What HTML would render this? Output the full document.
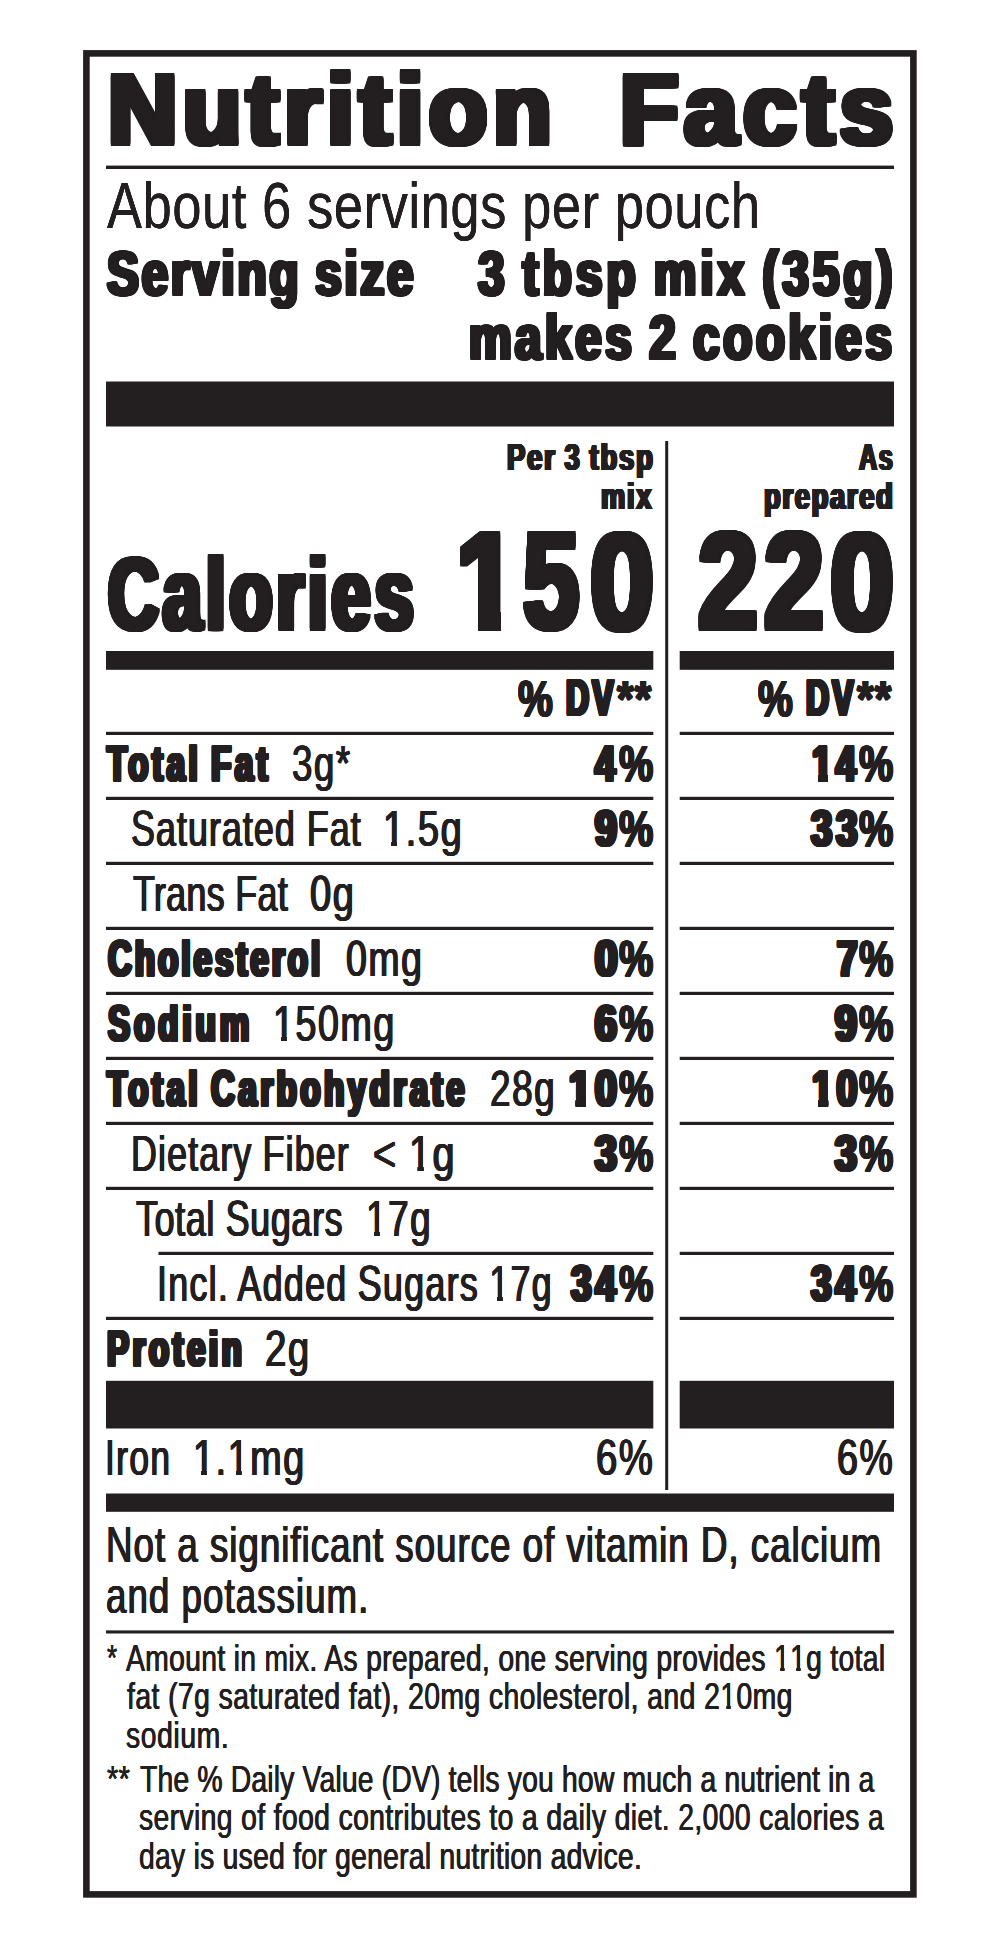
<!DOCTYPE html>
<html lang="en"><head><meta charset="utf-8"><title>Nutrition Facts</title>
<style>
html,body{margin:0;padding:0;background:#fff;}
body{width:1000px;height:1942px;position:relative;overflow:hidden;font-family:"Liberation Sans",sans-serif;color:#231f20;}
.rules{position:absolute;left:0;top:0;}
.g{position:absolute;left:0;top:0;}
.t{position:absolute;white-space:nowrap;line-height:1;transform-origin:0 0;}
.t i{font-style:normal;display:inline-block;}
.title{font-size:100.9px;font-weight:700;text-shadow:-3.7px -2px 0 #231f20,-3.03px -2px 0 #231f20,-2.35px -2px 0 #231f20,-1.68px -2px 0 #231f20,-1.01px -2px 0 #231f20,-0.34px -2px 0 #231f20,0.34px -2px 0 #231f20,1.01px -2px 0 #231f20,1.68px -2px 0 #231f20,2.35px -2px 0 #231f20,3.03px -2px 0 #231f20,3.7px -2px 0 #231f20,-3.7px 2px 0 #231f20,-3.03px 2px 0 #231f20,-2.35px 2px 0 #231f20,-1.68px 2px 0 #231f20,-1.01px 2px 0 #231f20,-0.34px 2px 0 #231f20,0.34px 2px 0 #231f20,1.01px 2px 0 #231f20,1.68px 2px 0 #231f20,2.35px 2px 0 #231f20,3.03px 2px 0 #231f20,3.7px 2px 0 #231f20,-3.7px -1.2px 0 #231f20,3.7px -1.2px 0 #231f20,-3.7px -0.4px 0 #231f20,3.7px -0.4px 0 #231f20,-3.7px 0.4px 0 #231f20,3.7px 0.4px 0 #231f20,-3.7px 1.2px 0 #231f20,3.7px 1.2px 0 #231f20}
.about{font-size:65.5px;font-weight:400;text-shadow:-0.15px 0px 0 #231f20,0.15px 0px 0 #231f20}
.serv{font-size:63.8px;font-weight:700;text-shadow:-2.5px -0.55px 0 #231f20,-1.88px -0.55px 0 #231f20,-1.25px -0.55px 0 #231f20,-0.62px -0.55px 0 #231f20,0px -0.55px 0 #231f20,0.62px -0.55px 0 #231f20,1.25px -0.55px 0 #231f20,1.88px -0.55px 0 #231f20,2.5px -0.55px 0 #231f20,-2.5px 0.55px 0 #231f20,-1.88px 0.55px 0 #231f20,-1.25px 0.55px 0 #231f20,-0.62px 0.55px 0 #231f20,0px 0.55px 0 #231f20,0.62px 0.55px 0 #231f20,1.25px 0.55px 0 #231f20,1.88px 0.55px 0 #231f20,2.5px 0.55px 0 #231f20,-2.5px 0px 0 #231f20,2.5px 0px 0 #231f20}
.per{font-size:36.4px;font-weight:700;text-shadow:-1.45px -0.45px 0 #231f20,-0.87px -0.45px 0 #231f20,-0.29px -0.45px 0 #231f20,0.29px -0.45px 0 #231f20,0.87px -0.45px 0 #231f20,1.45px -0.45px 0 #231f20,-1.45px 0.45px 0 #231f20,-0.87px 0.45px 0 #231f20,-0.29px 0.45px 0 #231f20,0.29px 0.45px 0 #231f20,0.87px 0.45px 0 #231f20,1.45px 0.45px 0 #231f20,-1.45px 0px 0 #231f20,1.45px 0px 0 #231f20}
.cal{font-size:101.7px;font-weight:700;text-shadow:-4.26px -1.5px 0 #231f20,-3.6px -1.5px 0 #231f20,-2.95px -1.5px 0 #231f20,-2.29px -1.5px 0 #231f20,-1.64px -1.5px 0 #231f20,-0.98px -1.5px 0 #231f20,-0.33px -1.5px 0 #231f20,0.33px -1.5px 0 #231f20,0.98px -1.5px 0 #231f20,1.64px -1.5px 0 #231f20,2.29px -1.5px 0 #231f20,2.95px -1.5px 0 #231f20,3.6px -1.5px 0 #231f20,4.26px -1.5px 0 #231f20,-4.26px 1.5px 0 #231f20,-3.6px 1.5px 0 #231f20,-2.95px 1.5px 0 #231f20,-2.29px 1.5px 0 #231f20,-1.64px 1.5px 0 #231f20,-0.98px 1.5px 0 #231f20,-0.33px 1.5px 0 #231f20,0.33px 1.5px 0 #231f20,0.98px 1.5px 0 #231f20,1.64px 1.5px 0 #231f20,2.29px 1.5px 0 #231f20,2.95px 1.5px 0 #231f20,3.6px 1.5px 0 #231f20,4.26px 1.5px 0 #231f20,-4.26px -0.75px 0 #231f20,4.26px -0.75px 0 #231f20,-4.26px 0px 0 #231f20,4.26px 0px 0 #231f20,-4.26px 0.75px 0 #231f20,4.26px 0.75px 0 #231f20}
.dig{font-size:138px;font-weight:700;text-shadow:-4px -2.5px 0 #231f20,-3.33px -2.5px 0 #231f20,-2.67px -2.5px 0 #231f20,-2px -2.5px 0 #231f20,-1.33px -2.5px 0 #231f20,-0.67px -2.5px 0 #231f20,0px -2.5px 0 #231f20,0.67px -2.5px 0 #231f20,1.33px -2.5px 0 #231f20,2px -2.5px 0 #231f20,2.67px -2.5px 0 #231f20,3.33px -2.5px 0 #231f20,4px -2.5px 0 #231f20,-4px 2.5px 0 #231f20,-3.33px 2.5px 0 #231f20,-2.67px 2.5px 0 #231f20,-2px 2.5px 0 #231f20,-1.33px 2.5px 0 #231f20,-0.67px 2.5px 0 #231f20,0px 2.5px 0 #231f20,0.67px 2.5px 0 #231f20,1.33px 2.5px 0 #231f20,2px 2.5px 0 #231f20,2.67px 2.5px 0 #231f20,3.33px 2.5px 0 #231f20,4px 2.5px 0 #231f20,-4px -1.79px 0 #231f20,4px -1.79px 0 #231f20,-4px -1.07px 0 #231f20,4px -1.07px 0 #231f20,-4px -0.36px 0 #231f20,4px -0.36px 0 #231f20,-4px 0.36px 0 #231f20,4px 0.36px 0 #231f20,-4px 1.07px 0 #231f20,4px 1.07px 0 #231f20,-4px 1.79px 0 #231f20,4px 1.79px 0 #231f20}
.blk{font-size:49.9px;font-weight:700;text-shadow:-2.4px -0.85px 0 #231f20,-1.71px -0.85px 0 #231f20,-1.03px -0.85px 0 #231f20,-0.34px -0.85px 0 #231f20,0.34px -0.85px 0 #231f20,1.03px -0.85px 0 #231f20,1.71px -0.85px 0 #231f20,2.4px -0.85px 0 #231f20,-2.4px 0.85px 0 #231f20,-1.71px 0.85px 0 #231f20,-1.03px 0.85px 0 #231f20,-0.34px 0.85px 0 #231f20,0.34px 0.85px 0 #231f20,1.03px 0.85px 0 #231f20,1.71px 0.85px 0 #231f20,2.4px 0.85px 0 #231f20,-2.4px -0.28px 0 #231f20,2.4px -0.28px 0 #231f20,-2.4px 0.28px 0 #231f20,2.4px 0.28px 0 #231f20}
.pct{font-size:49.9px;font-weight:700;text-shadow:-0.9px -0.5px 0 #231f20,-0.3px -0.5px 0 #231f20,0.3px -0.5px 0 #231f20,0.9px -0.5px 0 #231f20,-0.9px 0.5px 0 #231f20,-0.3px 0.5px 0 #231f20,0.3px 0.5px 0 #231f20,0.9px 0.5px 0 #231f20,-0.9px 0px 0 #231f20,0.9px 0px 0 #231f20}
.reg{font-size:50.5px;font-weight:400;text-shadow:-0.85px 0px 0 #231f20,-0.28px 0px 0 #231f20,0.28px 0px 0 #231f20,0.85px 0px 0 #231f20}
.note{font-size:50.0px;font-weight:400;text-shadow:-0.75px 0px 0 #231f20,-0.25px 0px 0 #231f20,0.25px 0px 0 #231f20,0.75px 0px 0 #231f20}
.foot{font-size:37.3px;font-weight:400;text-shadow:-0.45px 0px 0 #231f20,0.45px 0px 0 #231f20}
</style></head>
<body>
<svg class="rules" width="1000" height="1942" viewBox="0 0 1000 1942">
<rect x="86.4" y="53.4" width="827" height="1841" fill="none" stroke="#231f20" stroke-width="6.6"/>
<rect x="106" y="165.6" width="788" height="3.4" fill="#231f20"/>
<rect x="106" y="381.5" width="788" height="45" fill="#231f20"/>
<rect x="665.2" y="441" width="3" height="1049" fill="#231f20"/>
<rect x="106" y="651" width="547.3" height="18.8" fill="#231f20"/>
<rect x="679.7" y="651" width="214.3" height="18.8" fill="#231f20"/>
<rect x="106" y="1380.8" width="547.3" height="47.7" fill="#231f20"/>
<rect x="679.7" y="1380.8" width="214.3" height="47.7" fill="#231f20"/>
<rect x="106" y="1493.5" width="788" height="18.3" fill="#231f20"/>
<rect x="106" y="1630.4" width="788" height="3.1" fill="#231f20"/>
<rect x="106" y="731.8" width="547.3" height="3.2" fill="#231f20"/>
<rect x="679.7" y="731.8" width="214.3" height="3.2" fill="#231f20"/>
<rect x="106" y="796.8" width="547.3" height="3.2" fill="#231f20"/>
<rect x="679.7" y="796.8" width="214.3" height="3.2" fill="#231f20"/>
<rect x="106" y="861.8" width="547.3" height="3.2" fill="#231f20"/>
<rect x="679.7" y="861.8" width="214.3" height="3.2" fill="#231f20"/>
<rect x="106" y="926.8" width="547.3" height="3.2" fill="#231f20"/>
<rect x="679.7" y="926.8" width="214.3" height="3.2" fill="#231f20"/>
<rect x="106" y="991.8" width="547.3" height="3.2" fill="#231f20"/>
<rect x="679.7" y="991.8" width="214.3" height="3.2" fill="#231f20"/>
<rect x="106" y="1056.8" width="547.3" height="3.2" fill="#231f20"/>
<rect x="679.7" y="1056.8" width="214.3" height="3.2" fill="#231f20"/>
<rect x="106" y="1121.8" width="547.3" height="3.2" fill="#231f20"/>
<rect x="679.7" y="1121.8" width="214.3" height="3.2" fill="#231f20"/>
<rect x="106" y="1186.8" width="547.3" height="3.2" fill="#231f20"/>
<rect x="679.7" y="1186.8" width="214.3" height="3.2" fill="#231f20"/>
<rect x="158.5" y="1251.8" width="494.8" height="3.2" fill="#231f20"/>
<rect x="679.7" y="1251.8" width="214.3" height="3.2" fill="#231f20"/>
<rect x="106" y="1316.8" width="547.3" height="3.2" fill="#231f20"/>
<rect x="679.7" y="1316.8" width="214.3" height="3.2" fill="#231f20"/>
</svg>
<div class="header">
<span class="t title" style="left:108.35px;top:58.80px;letter-spacing:5.83px;transform:scaleX(0.9498)">Nutrition</span>
<span class="t title" style="left:619.95px;top:58.80px;letter-spacing:6px;transform:scaleX(0.9496)">Facts</span>
</div>
<div class="servings">
<span class="t about" style="left:106.50px;top:173.45px;letter-spacing:0.76px;transform:scaleX(0.7999)">About 6 servings per pouch</span>
<span class="t serv" style="left:107.20px;top:242.25px;letter-spacing:3.57px;word-spacing:-2.86px;transform:scaleX(0.7501)">Serving size</span>
<span class="t serv" style="left:478.05px;top:242.25px;letter-spacing:5.36px;word-spacing:-4.29px;transform:scaleX(0.7495)">3 tbsp mix (35g)</span>
<span class="t serv" style="left:469.40px;top:306.45px;letter-spacing:4.56px;word-spacing:-3.65px;transform:scaleX(0.7502)">makes 2 cookies</span>
</div>
<div class="columns">
<span class="t per" style="left:507.25px;top:439.55px;letter-spacing:2.47px;word-spacing:-1.98px;transform:scaleX(0.7503)">Per 3 tbsp</span>
<span class="t per" style="left:601.25px;top:478.75px;letter-spacing:2.4px;transform:scaleX(0.7471)">mix</span>
<span class="t per" style="left:858.69px;top:439.55px;letter-spacing:2.4px;transform:scaleX(0.6900)">As</span>
<span class="t per" style="left:764.25px;top:478.75px;letter-spacing:2.29px;transform:scaleX(0.7500)">prepared</span>
</div>
<div class="calories">
<span class="t cal" style="left:108.25px;top:544.25px;letter-spacing:5.93px;transform:scaleX(0.6902)">Calories</span>
<span class="g"><span class="t dig" style="left:456.40px;top:510.50px;transform:scaleX(0.8000)"><i style="clip-path:polygon(-20px -20px,55.74px -20px,55.74px 158.0px,27.61px 158.0px,27.61px 99.42px,-20px 99.42px)">1</i></span><span class="t dig" style="left:522.80px;top:511.10px;transform:scaleX(0.7325)">5</span><span class="t dig" style="left:589.87px;top:511.90px;transform:scaleX(0.8338)">0</span></span>
<span class="g"><span class="t dig" style="left:697.50px;top:510.50px;transform:scaleX(0.7803)">2</span><span class="t dig" style="left:764.00px;top:510.50px;transform:scaleX(0.7803)">2</span><span class="t dig" style="left:829.87px;top:511.90px;transform:scaleX(0.8338)">0</span></span>
</div>
<div class="dv-head">
<span class="g"><span class="t pct" style="left:518.25px;top:674.90px;transform:scaleX(0.7841)">%</span> <span class="t blk" style="left:566.36px;top:674.35px;letter-spacing:5px;transform:scaleX(0.6400)">DV</span><span class="t pct" style="left:617.35px;top:674.70px;letter-spacing:1.5px;transform:scaleX(0.8500)">**</span></span>
<span class="g"><span class="t pct" style="left:758.25px;top:674.90px;transform:scaleX(0.7841)">%</span> <span class="t blk" style="left:806.36px;top:674.35px;letter-spacing:5px;transform:scaleX(0.6400)">DV</span><span class="t pct" style="left:857.35px;top:674.70px;letter-spacing:1.5px;transform:scaleX(0.8500)">**</span></span>
</div>
<div class="row r0">
<span class="t blk" style="left:107.12px;top:739.55px;letter-spacing:5.43px;word-spacing:-4.34px;transform:scaleX(0.6607)">Total Fat</span>
<span class="t reg" style="left:291.77px;top:739.15px;letter-spacing:2px;transform:scaleX(0.7278)">3g*</span>
<span class="g"><span class="t blk" style="left:595.47px;top:739.55px;transform:scaleX(0.7344)">4</span><span class="t pct" style="left:619.00px;top:740.20px;transform:scaleX(0.7727)">%</span></span>
<span class="g"><span class="t blk" style="left:811.77px;top:739.55px;letter-spacing:5px;transform:scaleX(0.7258)"><i style="clip-path:polygon(-20px -20px,21.49px -20px,21.49px 69.9px,8.65px 69.9px,8.65px 34.06px,-20px 34.06px)">1</i>4</span><span class="t pct" style="left:859.00px;top:740.20px;transform:scaleX(0.7727)">%</span></span>
</div>
<div class="row r1">
<span class="t reg" style="left:131.33px;top:804.15px;letter-spacing:1.42px;transform:scaleX(0.7111)">Saturated Fat</span>
<span class="t reg" style="left:382.98px;top:804.15px;letter-spacing:2px;transform:scaleX(0.7551)"><i style="clip-path:polygon(-20px -20px,18.61px -20px,18.61px 70.5px,11.25px 70.5px,11.25px 36.98px,-20px 36.98px)">1</i>.5g</span>
<span class="g"><span class="t blk" style="left:594.78px;top:804.55px;transform:scaleX(0.7833)">9</span><span class="t pct" style="left:619.00px;top:805.20px;transform:scaleX(0.7727)">%</span></span>
<span class="g"><span class="t blk" style="left:810.77px;top:804.55px;letter-spacing:5px;transform:scaleX(0.7661)">33</span><span class="t pct" style="left:859.00px;top:805.20px;transform:scaleX(0.7727)">%</span></span>
</div>
<div class="row r2">
<span class="t reg" style="left:132.75px;top:869.15px;letter-spacing:0.47px;transform:scaleX(0.7099)">Trans Fat</span>
<span class="t reg" style="left:310.25px;top:869.15px;letter-spacing:2px;transform:scaleX(0.7545)">0g</span>
</div>
<div class="row r3">
<span class="t blk" style="left:108.16px;top:934.55px;letter-spacing:4.7px;transform:scaleX(0.6599)">Cholesterol</span>
<span class="t reg" style="left:345.76px;top:934.15px;letter-spacing:2px;transform:scaleX(0.7424)">0mg</span>
<span class="g"><span class="t blk" style="left:594.81px;top:934.55px;transform:scaleX(0.8103)">0</span><span class="t pct" style="left:619.00px;top:935.20px;transform:scaleX(0.7727)">%</span></span>
<span class="g"><span class="t blk" style="left:836.74px;top:934.55px;transform:scaleX(0.7414)">7</span><span class="t pct" style="left:859.00px;top:935.20px;transform:scaleX(0.7727)">%</span></span>
</div>
<div class="row r4">
<span class="t blk" style="left:108.16px;top:999.55px;letter-spacing:6.12px;transform:scaleX(0.6612)">Sodium</span>
<span class="t reg" style="left:273.01px;top:999.15px;letter-spacing:2px;transform:scaleX(0.7468)"><i style="clip-path:polygon(-20px -20px,18.61px -20px,18.61px 70.5px,11.25px 70.5px,11.25px 36.98px,-20px 36.98px)">1</i>50mg</span>
<span class="g"><span class="t blk" style="left:594.78px;top:999.55px;transform:scaleX(0.7833)">6</span><span class="t pct" style="left:619.00px;top:1000.20px;transform:scaleX(0.7727)">%</span></span>
<span class="g"><span class="t blk" style="left:834.78px;top:999.55px;transform:scaleX(0.7833)">9</span><span class="t pct" style="left:859.00px;top:1000.20px;transform:scaleX(0.7727)">%</span></span>
</div>
<div class="row r5">
<span class="t blk" style="left:107.12px;top:1064.55px;letter-spacing:5.42px;word-spacing:-4.34px;transform:scaleX(0.6603)">Total Carbohydrate</span>
<span class="t reg" style="left:489.54px;top:1064.15px;letter-spacing:2px;transform:scaleX(0.7321)">28g</span>
<span class="g"><span class="t blk" style="left:569.21px;top:1064.55px;letter-spacing:5px;transform:scaleX(0.7917)"><i style="clip-path:polygon(-20px -20px,21.49px -20px,21.49px 69.9px,8.65px 69.9px,8.65px 34.06px,-20px 34.06px)">1</i>0</span><span class="t pct" style="left:619.00px;top:1065.20px;transform:scaleX(0.7727)">%</span></span>
<span class="g"><span class="t blk" style="left:811.75px;top:1064.55px;letter-spacing:5px;transform:scaleX(0.7500)"><i style="clip-path:polygon(-20px -20px,21.49px -20px,21.49px 69.9px,8.65px 69.9px,8.65px 34.06px,-20px 34.06px)">1</i>0</span><span class="t pct" style="left:859.00px;top:1065.20px;transform:scaleX(0.7727)">%</span></span>
</div>
<div class="row r6">
<span class="t reg" style="left:131.37px;top:1129.15px;letter-spacing:1.61px;word-spacing:-1.29px;transform:scaleX(0.7089)">Dietary Fiber</span>
<span class="t reg" style="left:373.43px;top:1129.15px;letter-spacing:2px;word-spacing:-1.60px;transform:scaleX(0.7828)">&lt; <i style="clip-path:polygon(-20px -20px,18.61px -20px,18.61px 70.5px,11.25px 70.5px,11.25px 36.98px,-20px 36.98px)">1</i>g</span>
<span class="g"><span class="t blk" style="left:594.78px;top:1129.55px;transform:scaleX(0.7833)">3</span><span class="t pct" style="left:619.00px;top:1130.20px;transform:scaleX(0.7727)">%</span></span>
<span class="g"><span class="t blk" style="left:834.78px;top:1129.55px;transform:scaleX(0.7833)">3</span><span class="t pct" style="left:859.00px;top:1130.20px;transform:scaleX(0.7727)">%</span></span>
</div>
<div class="row r7">
<span class="t reg" style="left:135.50px;top:1194.15px;letter-spacing:0.89px;transform:scaleX(0.7111)">Total Sugars</span>
<span class="t reg" style="left:366.07px;top:1194.15px;letter-spacing:2px;transform:scaleX(0.7317)"><i style="clip-path:polygon(-20px -20px,18.61px -20px,18.61px 70.5px,11.25px 70.5px,11.25px 36.98px,-20px 36.98px)">1</i>7g</span>
</div>
<div class="row r8">
<span class="t reg" style="left:157.16px;top:1259.15px;letter-spacing:1.79px;word-spacing:-1.43px;transform:scaleX(0.7104)">Incl. Added Sugars <i style="clip-path:polygon(-20px -20px,18.61px -20px,18.61px 70.5px,11.25px 70.5px,11.25px 36.98px,-20px 36.98px)">1</i>7g</span>
<span class="g"><span class="t blk" style="left:570.74px;top:1259.55px;letter-spacing:5px;transform:scaleX(0.7422)">34</span><span class="t pct" style="left:619.00px;top:1260.20px;transform:scaleX(0.7727)">%</span></span>
<span class="g"><span class="t blk" style="left:810.74px;top:1259.55px;letter-spacing:5px;transform:scaleX(0.7422)">34</span><span class="t pct" style="left:859.00px;top:1260.20px;transform:scaleX(0.7727)">%</span></span>
</div>
<div class="row r9">
<span class="t blk" style="left:106.84px;top:1324.55px;letter-spacing:5.37px;transform:scaleX(0.6601)">Protein</span>
<span class="t reg" style="left:264.98px;top:1324.15px;letter-spacing:2px;transform:scaleX(0.7593)">2g</span>
</div>
<div class="row r10">
<span class="t reg" style="left:105.46px;top:1432.50px;letter-spacing:2px;transform:scaleX(0.6983)">Iron</span>
<span class="t reg" style="left:193.00px;top:1432.50px;letter-spacing:2px;transform:scaleX(0.7500)"><i style="clip-path:polygon(-20px -20px,18.61px -20px,18.61px 70.5px,11.25px 70.5px,11.25px 36.98px,-20px 36.98px)">1</i>.<i style="clip-path:polygon(-20px -20px,18.61px -20px,18.61px 70.5px,11.25px 70.5px,11.25px 36.98px,-20px 36.98px)">1</i>mg</span>
<span class="t reg" style="left:595.99px;top:1432.50px;letter-spacing:2px;transform:scaleX(0.7569)">6%</span>
<span class="t reg" style="left:836.51px;top:1432.50px;letter-spacing:2px;transform:scaleX(0.7444)">6%</span>
</div>
<div class="note">
<span class="t note" style="left:105.80px;top:1519.50px;letter-spacing:1.33px;transform:scaleX(0.7350)">Not a significant source of vitamin D, calcium</span>
<span class="t note" style="left:106.27px;top:1570.50px;letter-spacing:1.42px;transform:scaleX(0.7337)">and potassium.</span>
</div>
<div class="footnotes">
<span class="t foot" style="left:106.75px;top:1639.60px;transform:scaleX(0.6964)">*</span>
<span class="t foot" style="left:125.80px;top:1639.60px;letter-spacing:0.39px;transform:scaleX(0.7601)">Amount in mix. As prepared, one serving provides <i style="clip-path:polygon(-20px -20px,13.73px -20px,13.73px 57.3px,8.33px 57.3px,8.33px 27.01px,-20px 27.01px)">1</i><i style="clip-path:polygon(-20px -20px,13.73px -20px,13.73px 57.3px,8.33px 57.3px,8.33px 27.01px,-20px 27.01px)">1</i>g total</span>
<span class="t foot" style="left:126.50px;top:1678.30px;letter-spacing:0.54px;transform:scaleX(0.7605)">fat (7g saturated fat), 20mg cholesterol, and 2<i style="clip-path:polygon(-20px -20px,13.73px -20px,13.73px 57.3px,8.33px 57.3px,8.33px 27.01px,-20px 27.01px)">1</i>0mg</span>
<span class="t foot" style="left:125.74px;top:1716.55px;letter-spacing:0.78px;transform:scaleX(0.7595)">sodium.</span>
<span class="t foot" style="left:106.75px;top:1760.80px;letter-spacing:0.4px;transform:scaleX(0.7759)">**</span>
<span class="t foot" style="left:139.75px;top:1760.80px;letter-spacing:0.18px;transform:scaleX(0.7609)">The % Daily Value (DV) tells you how much a nutrient in a</span>
<span class="t foot" style="left:139.24px;top:1799.30px;letter-spacing:0.48px;transform:scaleX(0.7596)">serving of food contributes to a daily diet. 2,000 calories a</span>
<span class="t foot" style="left:139.24px;top:1837.80px;letter-spacing:0.32px;transform:scaleX(0.7599)">day is used for general nutrition advice.</span>
</div>
</body></html>
